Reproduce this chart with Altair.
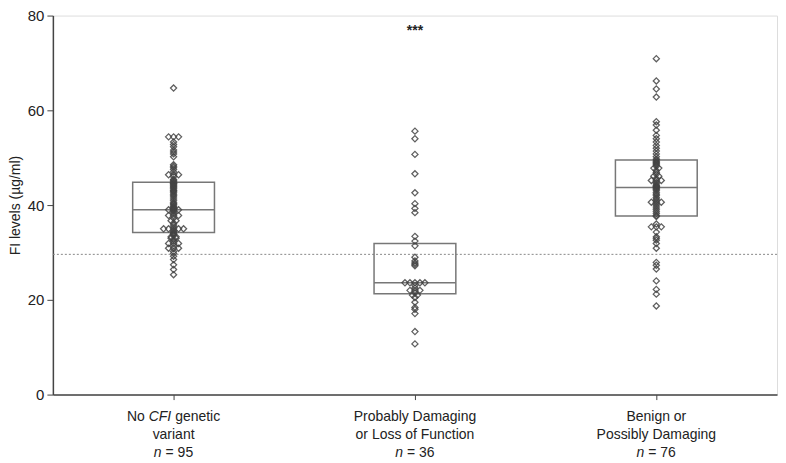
import altair as alt
import pandas as pd

groups = ["No CFI genetic variant", "Probably Damaging or Loss of Function", "Benign or Possibly Damaging"]
line1 = ["No CFI genetic", "Probably Damaging", "Benign or"]
line2 = ["variant", "or Loss of Function", "Possibly Damaging"]
n_values = [95, 36, 76]

vals_no_variant = [64.7, 54.4, 54.4, 54.4, 53.3, 52.8, 52.3, 51.6, 51.2, 50.8, 50.2, 48.5, 48.2, 47.9,
                   47.5, 47.0, 46.4, 46.4, 46.4, 46.0, 45.4, 45.2, 45.0,
                   44.7, 44.6, 44.5, 44.3, 44.1, 43.9, 43.7, 43.5, 43.2, 43.0, 42.9, 42.6, 42.3, 42.0,
                   41.7, 41.3, 40.9, 40.5, 40.3, 40.1, 39.8, 39.6, 39.4, 39.3, 39.2, 39.0, 39.0, 39.0,
                   38.9, 38.8, 38.5, 38.2, 37.8, 37.8, 37.8, 37.2, 36.7, 36.7, 36.2, 35.8, 35.4,
                   35.0, 35.0, 35.0, 35.0, 35.0, 34.6, 34.4,
                   34.1, 34.0, 33.8, 33.6, 33.3, 33.3, 33.0, 33.0, 32.8, 32.4, 31.9, 31.9, 31.9, 31.4,
                   30.9, 30.9, 30.9, 30.2, 29.8, 29.2, 28.5, 27.4, 26.4, 25.3]
vals_damaging = [55.6, 54.0, 50.7, 46.6, 42.6, 40.3, 39.3, 38.4, 33.4, 32.4, 31.4, 29.0, 28.2, 27.8,
                 27.5, 27.2, 23.6, 23.6, 23.6, 23.6, 23.6, 23.0, 22.5, 22.0, 22.0, 22.0, 21.5, 21.0,
                 21.0, 20.5, 19.5, 18.4, 18.0, 17.1, 13.3, 10.7]
vals_benign = [70.9, 66.2, 64.5, 62.8, 57.6, 56.9, 55.8, 54.7, 54.0, 53.3, 52.6, 52.0, 51.4, 50.8,
               50.2, 49.7,
               49.5, 49.2, 49.0, 48.8, 48.5, 48.2, 47.8, 47.8, 47.3, 46.9, 46.5, 46.1, 46.1, 45.6,
               45.2, 45.2, 45.2, 44.8, 44.5, 44.2, 44.0, 43.9, 43.7, 43.5, 43.3, 43.0, 42.6, 42.3,
               42.0, 41.6, 41.3, 41.0, 40.6, 40.6, 40.6, 40.2, 39.8, 39.4, 39.0, 38.6, 38.2, 37.8,
               37.6,
               36.0, 35.4, 35.4, 35.4, 34.3, 33.3, 33.0, 32.6, 31.9, 30.9, 27.9, 27.3, 26.5, 24.0,
               22.2, 21.2, 18.7]

q1 = [34.2, 21.3, 37.7]
median = [39.0, 23.6, 43.7]
q3 = [44.8, 31.9, 49.5]
threshold = 29.6
sig_label = "***"
sig_y = 76.7

W, H = 726, 380
band_px = W / 3.0
lane_units = 5.0 / band_px
box_half = 41.0 / band_px

# points with tie dodging (identical values spread sideways)
rows = []
for gi, vals in enumerate([vals_no_variant, vals_damaging, vals_benign]):
    counts = {}
    for v in vals:
        counts[v] = counts.get(v, 0) + 1
    seen = {}
    for v in vals:
        k = counts[v]
        r = seen.get(v, 0)
        seen[v] = r + 1
        rank = [0, -1, 1, -2, 2, -3, 3][r] if k % 2 == 1 else [-0.5, 0.5, -1.5, 1.5, -2.5, 2.5][r]
        rows.append({"group": groups[gi], "x": gi + rank * lane_units, "value": v})
pts = pd.DataFrame(rows)

boxes = pd.DataFrame({
    "group": groups,
    "lo": [i - box_half for i in range(3)],
    "hi": [i + box_half for i in range(3)],
    "q1": q1, "median": median, "q3": q3,
})
labels = pd.DataFrame({
    "x": list(range(3)), "line1": line1, "line2": line2,
    "n": [f"= {n}" for n in n_values],
})

FONT = "Liberation Sans"
xscale = alt.Scale(domain=[-0.5, 2.5], nice=False, zero=False)
yscale = alt.Scale(domain=[0, 80], nice=False)

xenc = alt.X("x:Q", scale=xscale,
             axis=alt.Axis(values=[0, 1, 2], labels=False, tickSize=5, grid=False, title=None,
                           domainColor="#444", tickColor="#444", domainWidth=1.5))

base_pts = alt.Chart(pts).mark_point(shape="diamond", filled=False, size=38, color="#444",
                                     strokeWidth=1.25, opacity=0.85).encode(
    x=xenc,
    y=alt.Y("value:Q", scale=yscale,
            axis=alt.Axis(values=[0, 20, 40, 60, 80], tickSize=6, grid=False,
                          title="FI levels (µg/ml)", titleFontSize=14, titleFontWeight="normal",
                          titleColor="#222", titlePadding=5, labelFontSize=15, labelColor="#222",
                          labelPadding=3, domainColor="#444", tickColor="#444", domainWidth=1.5,
                          labelFont=FONT, titleFont=FONT)),
)

thr = alt.Chart(pd.DataFrame({"t": [threshold]})).mark_rule(
    color="#888", strokeDash=[2, 2], strokeWidth=1).encode(y=alt.Y("t:Q", scale=yscale))

box = alt.Chart(boxes).mark_rect(fillOpacity=0, stroke="#777", strokeWidth=1.5).encode(
    x=alt.X("lo:Q", scale=xscale), x2="hi:Q",
    y=alt.Y("q1:Q", scale=yscale), y2="q3:Q")

med = alt.Chart(boxes).mark_rule(color="#777", strokeWidth=1.5).encode(
    x=alt.X("lo:Q", scale=xscale), x2="hi:Q",
    y=alt.Y("median:Q", scale=yscale))

sig = alt.Chart(pd.DataFrame({"x": [1], "y": [sig_y], "t": [sig_label]})).mark_text(
    font=FONT, fontSize=14, fontWeight="bold", color="#222", baseline="middle").encode(
    x=alt.X("x:Q", scale=xscale), y=alt.Y("y:Q", scale=yscale), text="t:N")

y1, y2, y3 = H + 22, H + 41, H + 59
txt = dict(font=FONT, fontSize=14, color="#222", baseline="middle")
lab = alt.Chart(labels)
l1_plain = lab.transform_filter("datum.x > 0").mark_text(align="center", **txt).encode(
    x=alt.X("x:Q", scale=xscale), y=alt.value(y1), text="line1:N")
l1_no = lab.transform_filter("datum.x == 0").mark_text(align="right", dx=-28.8, **txt).encode(
    x=alt.X("x:Q", scale=xscale), y=alt.value(y1), text=alt.value("No"))
l1_cfi = lab.transform_filter("datum.x == 0").mark_text(align="left", dx=-24.9, fontStyle="italic", **txt).encode(
    x=alt.X("x:Q", scale=xscale), y=alt.value(y1), text=alt.value("CFI"))
l1_gen = lab.transform_filter("datum.x == 0").mark_text(align="left", dx=1.6, **txt).encode(
    x=alt.X("x:Q", scale=xscale), y=alt.value(y1), text=alt.value("genetic"))
l2 = lab.mark_text(align="center", **txt).encode(
    x=alt.X("x:Q", scale=xscale), y=alt.value(y2), text="line2:N")
n_it = lab.mark_text(align="right", dx=-12, fontStyle="italic", **txt).encode(
    x=alt.X("x:Q", scale=xscale), y=alt.value(y3), text=alt.value("n"))
n_rest = lab.mark_text(align="left", dx=-8, **txt).encode(
    x=alt.X("x:Q", scale=xscale), y=alt.value(y3), text="n:N")

chart = alt.layer(thr, box, med, base_pts, sig, l1_plain, l1_no, l1_cfi, l1_gen, l2, n_it, n_rest).properties(
    width=W, height=H, padding=0
).configure_view(stroke="#444", strokeWidth=1.5).configure(font=FONT)

chart.save("out.html", embed_options={"renderer": "svg", "actions": False})
